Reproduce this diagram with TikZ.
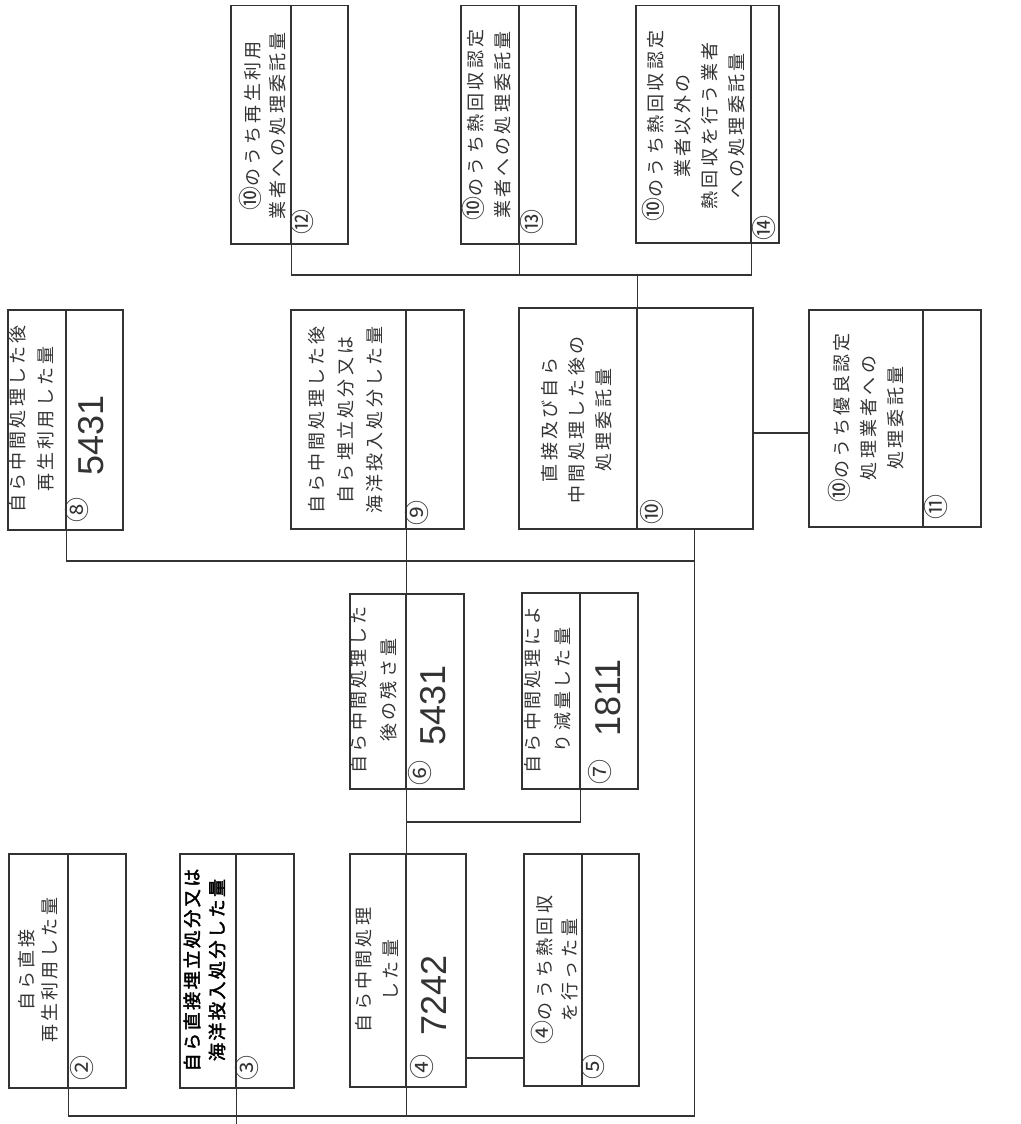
\documentclass[tikz,border=0pt]{standalone}
\usepackage{fontspec}
\newfontfamily\jp[AutoFakeBold=2.5]{Noto Sans CJK JP}
\newfontfamily\hand{Liberation Sans}
\definecolor{ink}{gray}{0.2}
\newcommand\circnum[1]{{\fontsize{24}{0}\selectfont #1}}
\begin{document}
\begin{tikzpicture}[x=1pt,y=-1pt,
  part/.style={draw=ink, line width=1.5pt, inner sep=0, anchor=north west},
  conn/.style={draw=ink, line width=1.3pt},
  lbl/.style={rotate=90, align=center, text=ink, inner sep=0,
    font=\jp\fontsize{18}{#1}\selectfont\addfontfeature{LetterSpace=18}},
  lbl/.default=27,
  lblb/.style={rotate=90, align=center, text=black, inner sep=0,
    font=\jp\bfseries\fontsize{18}{#1}\selectfont\addfontfeature{LetterSpace=14}},
  lblb/.default=25,
  circ/.style={rotate=90, text=ink, inner sep=0, font=\jp\fontsize{25}{25}\selectfont},
  num/.style={rotate=90, text=ink, inner sep=0, font=\hand\fontsize{36}{36}\selectfont}]
\useasboundingbox[fill=white] (0,0) rectangle (1020,1124);
% helper coordinates (horizontal line levels)
\coordinate (ybot) at (0,1116);
\coordinate (yedge) at (0,1124);
\coordinate (y1058) at (0,1058);
\coordinate (y822) at (0,822);
\coordinate (y561) at (0,561);
\coordinate (y433) at (0,433);
\coordinate (y275) at (0,275);
% ---------- boxes: text part (t) and value part (v) ----------
% (2)
\node[part, minimum width=59, minimum height=234] (b2t) at (8,853) {};
\node[part, minimum width=58, minimum height=234] (b2v) at (67,853) {};
% (3)
\node[part, minimum width=56, minimum height=234] (b3t) at (179,853) {};
\node[part, minimum width=58, minimum height=234] (b3v) at (235,853) {};
% (4)
\node[part, minimum width=56, minimum height=233] (b4t) at (349,853) {};
\node[part, minimum width=60, minimum height=233] (b4v) at (405,853) {};
% (5)
\node[part, minimum width=58, minimum height=232] (b5t) at (523,853) {};
\node[part, minimum width=57, minimum height=232] (b5v) at (581,853) {};
% (6)
\node[part, minimum width=56, minimum height=195] (b6t) at (349,593) {};
\node[part, minimum width=58, minimum height=195] (b6v) at (405,593) {};
% (7)
\node[part, minimum width=58, minimum height=196] (b7t) at (521,592) {};
\node[part, minimum width=58, minimum height=196] (b7v) at (579,592) {};
% (8)
\node[part, minimum width=58, minimum height=220] (b8t) at (7,309) {};
\node[part, minimum width=57, minimum height=220] (b8v) at (65,309) {};
% (9)
\node[part, minimum width=115, minimum height=219] (b9t) at (290,309) {};
\node[part, minimum width=58, minimum height=219] (b9v) at (405,309) {};
% (10)
\node[part, minimum width=118, minimum height=221] (b10t) at (518,307) {};
\node[part, minimum width=116, minimum height=221] (b10v) at (636,307) {};
% (11)
\node[part, minimum width=114, minimum height=217] (b11t) at (808,309) {};
\node[part, minimum width=58, minimum height=217] (b11v) at (922,309) {};
% (12)
\node[part, minimum width=60, minimum height=238] (b12t) at (230,5) {};
\node[part, minimum width=57, minimum height=238] (b12v) at (290,5) {};
% (13)
\node[part, minimum width=58, minimum height=238] (b13t) at (460,5) {};
\node[part, minimum width=57, minimum height=238] (b13v) at (518,5) {};
% (14)
\node[part, minimum width=115, minimum height=237] (b14t) at (635,5) {};
\node[part, minimum width=28, minimum height=237] (b14v) at (750,5) {};
% ---------- connectors ----------
\draw[conn] (b2t.south east) -- (b2t.south east |- ybot) -- (b10v.south |- ybot) -- (b10v.south);
\draw[conn] (b3t.south east) -- (b3t.south east |- yedge);
\draw[conn] (b9t.south east) -- (b6t.north east);
\draw[conn] (b6t.south east) -- (b4t.north east);
\draw[conn] (b4t.south east) -- (b4t.south east |- ybot);
\draw[conn] (b7t.south east) -- (b7t.south east |- y822) -- (b6t.south east |- y822);
\draw[conn] (b4v.east |- y1058) -- (b5t.west |- y1058);
\draw[conn] (b8t.south east) -- (b8t.south east |- y561) -- (b10v.south |- y561);
\draw[conn] (b10t.north east) -- (b10t.north east |- y275);
\draw[conn] (b12t.south east) -- (b12t.south east |- y275) -- (b14t.south east |- y275) -- (b14t.south east);
\draw[conn] (b13t.south east) -- (b13t.south east |- y275);
\draw[conn] (b10v.east |- y433) -- (b11t.west |- y433);
% ---------- labels ----------
\node[lbl=23] (t2) at (38.5,970) {自ら直接\\再生利用した量};
\node[lblb] (t3) at (204.5,970) {自ら直接埋立処分又は\\海洋投入処分した量};
\node[lbl] (t4) at (376.5,970) {自ら中間処理\\した量};
\node[lbl=25] (t5) at (554.5,970) {\circnum{④}のうち熱回収\\を行った量};
\node[lbl=30] (t6) at (374,690) {自ら中間処理した\\後の残さ量};
\node[lbl=30] (t7) at (548,690) {自ら中間処理によ\\り減量した量};
\node[lbl=28] (t8) at (31.5,419) {自ら中間処理した後\\再生利用した量};
\node[lbl=29] (t9) at (346,420) {自ら中間処理した後\\自ら埋立処分又は\\海洋投入処分した量};
\node[lbl] (t10) at (577,420) {直接及び自ら\\中間処理した後の\\処理委託量};
\node[lbl] (t11) at (866,418) {\circnum{⑩}のうち優良認定\\処理業者への\\処理委託量};
\node[lbl=25] (t12) at (262.5,126) {\circnum{⑩}のうち再生利用\\業者への処理委託量};
\node[lbl=27] (t13) at (486.5,125) {\circnum{⑩}のうち熱回収認定\\業者への処理委託量};
\node[lbl] (t14) at (694,126) {\circnum{⑩}のうち熱回収認定\\業者以外の\\熱回収を行う業者\\への処理委託量};
% ---------- circled numbers ----------
\node[circ] (n2) at (82,1068) {②};
\node[circ] (n3) at (247,1068) {③};
\node[circ] (n4) at (422,1067) {④};
\node[circ] (n5) at (593,1067) {⑤};
\node[circ] (n6) at (420,773) {⑥};
\node[circ] (n7) at (600,772) {⑦};
\node[circ] (n8) at (77,510) {⑧};
\node[circ] (n9) at (417,513) {⑨};
\node[circ] (n10) at (652,512) {⑩};
\node[circ] (n11) at (936,507) {⑪};
\node[circ] (n12) at (302,222) {⑫};
\node[circ] (n13) at (532,222) {⑬};
\node[circ] (n14) at (764,228) {⑭};
% ---------- hand-written values ----------
\node[num] (v4) at (434,995) {7242};
\node[num] (v6) at (433,705) {5431};
\node[num] (v7) at (608,698) {1811};
\node[num] (v8) at (91,435) {5431};
\end{tikzpicture}
\end{document}
